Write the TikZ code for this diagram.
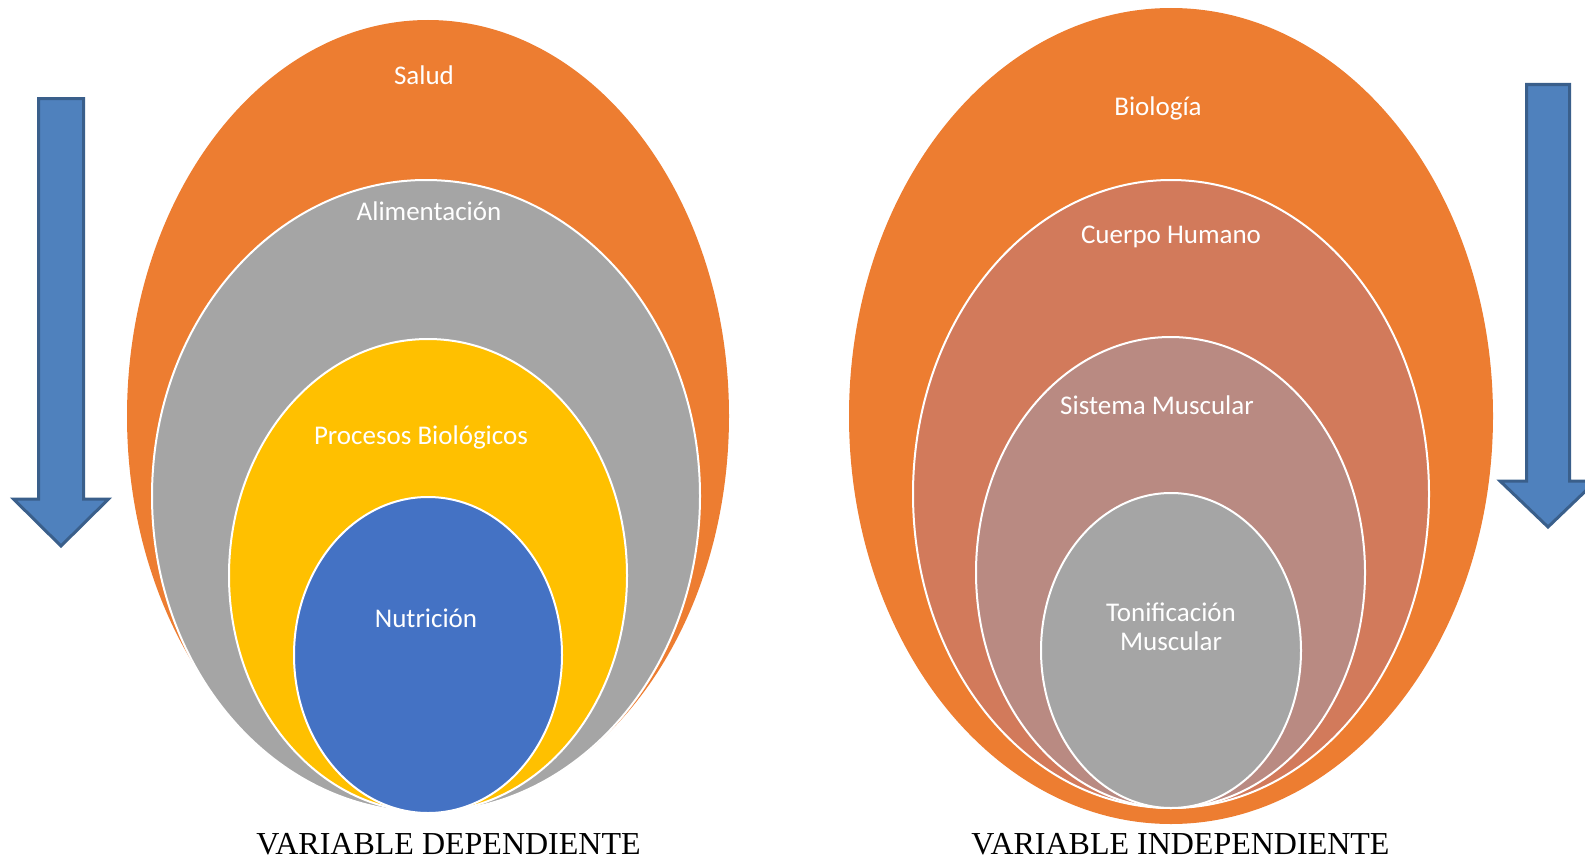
\documentclass[tikz,border=0pt]{standalone}
\usepackage{fontspec}
\setmainfont{Liberation Serif}
\newfontfamily\tagfont{Carlito}
\definecolor{orangeA}{HTML}{ED7D31}
\definecolor{grayA}{HTML}{A5A5A5}
\definecolor{goldA}{HTML}{FFC000}
\definecolor{blueA}{HTML}{4472C4}
\definecolor{rustA}{HTML}{D27A5B}
\definecolor{roseA}{HTML}{B98A82}
\definecolor{arrowfill}{HTML}{4F81BD}
\definecolor{arrowedge}{HTML}{3A5F8B}
\begin{document}
\begin{tikzpicture}[x=1pt,y=-1pt,
  ring/.style={draw=white, line width=2pt},
  tag/.style={font=\tagfont\fontsize{27}{29}\selectfont, text=white, align=center, inner sep=0pt},
  caption/.style={font=\fontsize{32}{38}\selectfont, anchor=base, inner sep=0pt},
  downarrow/.style={fill=arrowfill, draw=arrowedge, line width=3pt, line join=miter}]
\useasboundingbox (0,0) rectangle (1585,859);

% left nest: Salud > Alimentacion > Procesos > Nutricion
\fill[orangeA] (428,416) ellipse [x radius=301pt, y radius=396pt];
\path[fill=grayA, ring] (426,496) ellipse [x radius=274pt, y radius=316pt];
\path[fill=goldA, ring] (428,575.5) ellipse [x radius=199pt, y radius=236.5pt];
\path[fill=blueA, ring] (428,655) ellipse [x radius=134pt, y radius=158pt];

\node[tag] (salud) at (424,75) {Salud};
\node[tag] (alim) at (429,211) {Alimentación};
\node[tag] (proc) at (421,437) {Procesos Biológicos};
\node[tag] (nutr) at (426,618) {Nutrición};

% right nest: Biologia > Cuerpo Humano > Sistema Muscular > Tonificacion
\fill[orangeA] (1171,416) ellipse [x radius=322pt, y radius=408pt];
\path[fill=rustA, ring] (1171,494) ellipse [x radius=258pt, y radius=314pt];
\path[fill=roseA, ring] (1170.5,572.5) ellipse [x radius=194.5pt, y radius=235.5pt];
\path[fill=grayA, ring] (1171,650.5) ellipse [x radius=130pt, y radius=157.5pt];

\node[tag] (bio) at (1158,108) {Biología};
\node[tag] (cuerpo) at (1171,237) {Cuerpo Humano};
\node[tag] (sist) at (1157,405) {Sistema Muscular};
\node[tag] (toni) at (1171,627) {Tonificación\\Muscular};

% downward block arrows
\draw[downarrow] (38.5,98.5) -- (83.5,98.5) -- (83.5,499) -- (108.5,499) -- (61,546)
  -- (13.5,499) -- (38.5,499) -- cycle;
\draw[downarrow] (1526.5,84.5) -- (1569.5,84.5) -- (1569.5,481) -- (1596,481) -- (1548,527)
  -- (1500,481) -- (1526.5,481) -- cycle;

% captions
\node[caption] (dep) at (448.5,854) {VARIABLE DEPENDIENTE};
\node[caption] (indep) at (1180.5,854) {VARIABLE INDEPENDIENTE};
\end{tikzpicture}
\end{document}
